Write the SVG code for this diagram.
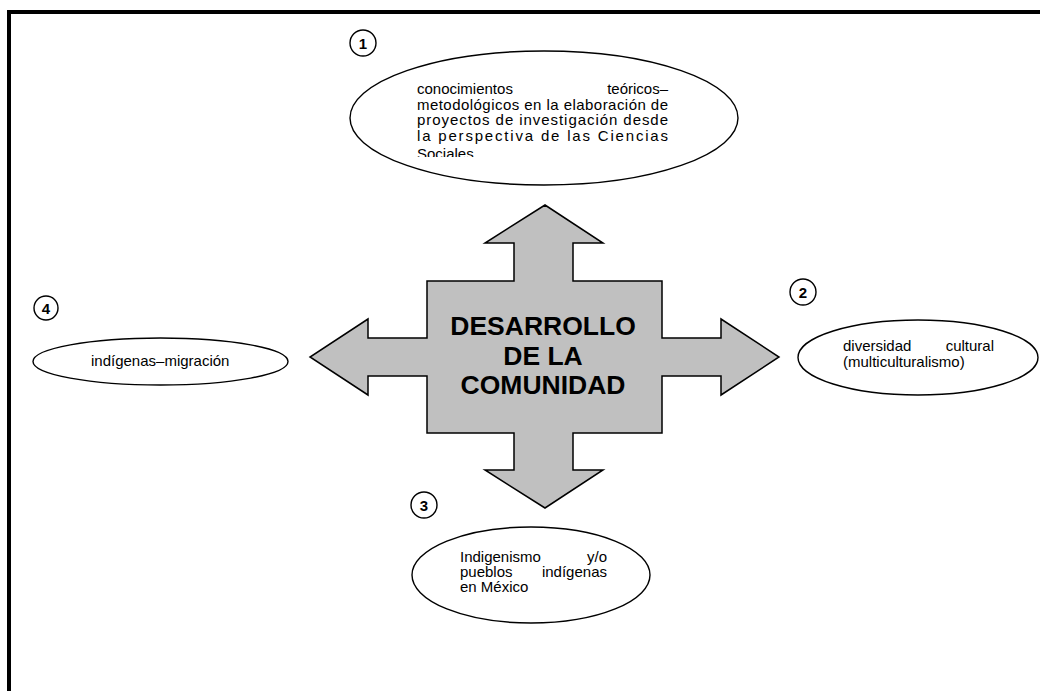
<svg xmlns="http://www.w3.org/2000/svg" width="1040" height="691" viewBox="0 0 1040 691">
  <style>
    .ell { fill: #ffffff; stroke: #000000; stroke-width: 1.4; }
    .num { fill: #ffffff; stroke: #000000; stroke-width: 1.4; }
    .numt { font-family: "Liberation Sans", Arial, sans-serif; font-size: 15px; font-weight: bold; text-anchor: middle; fill: #000; }
    .txt { font-family: "Liberation Sans", Arial, sans-serif; font-size: 15px; fill: #000; }
    .title { font-family: "Liberation Sans", Arial, sans-serif; font-size: 26.5px; font-weight: bold; text-anchor: middle; fill: #000; }
  </style>
  <defs>
    <clipPath id="clip1">
      <rect x="410" y="78" width="265" height="79"/>
    </clipPath>
  </defs>
  <rect width="1040" height="691" fill="#ffffff"/>

  <!-- page frame -->
  <path d="M9,691 V12 H1040" fill="none" stroke="#000" stroke-width="4"/>

  <!-- central four-way arrow -->
  <g id="center">
    <path d="M545,205 L603,243 L573,243 L573,281 L662,281 L662,338 L721,338 L721,319 L779,357 L721,395 L721,376 L662,376 L662,433 L573,433 L573,470 L603,470 L545,508 L485,470 L514,470 L514,433 L427,433 L427,376 L368,376 L368,395 L310,357 L368,319 L368,338 L427,338 L427,281 L514,281 L514,243 L485,243 Z" fill="#c0c0c0" stroke="#000" stroke-width="1.5" stroke-linejoin="miter"/>
    <text class="title" x="543" y="335">DESARROLLO</text>
    <text class="title" x="543" y="365">DE LA</text>
    <text class="title" x="543" y="394">COMUNIDAD</text>
  </g>

  <!-- node 1 -->
  <g id="node1">
    <circle class="num" cx="363" cy="43" r="13"/>
    <text class="numt" x="363" y="48.5">1</text>
    <ellipse class="ell" cx="544" cy="118" rx="194" ry="67"/>
    <g clip-path="url(#clip1)">
      <text class="txt" x="417" y="94">conocimientos</text>
      <text class="txt" x="668" y="94" text-anchor="end">teóricos–</text>
      <text class="txt" x="417" y="109.5" textLength="251" lengthAdjust="spacing">metodológicos en la elaboración de</text>
      <text class="txt" x="417" y="125" textLength="251" lengthAdjust="spacing">proyectos de investigación desde</text>
      <text class="txt" x="417" y="140.5" textLength="251" lengthAdjust="spacing">la perspectiva de las Ciencias</text>
      <text class="txt" x="417" y="159">Sociales</text>
    </g>
  </g>

  <!-- node 2 -->
  <g id="node2">
    <circle class="num" cx="803" cy="292" r="13"/>
    <text class="numt" x="803" y="297.5">2</text>
    <ellipse class="ell" cx="918" cy="357.5" rx="120" ry="37.5"/>
    <text class="txt" x="843" y="351">diversidad</text>
    <text class="txt" x="994" y="351" text-anchor="end">cultural</text>
    <text class="txt" x="843" y="367">(multiculturalismo)</text>
  </g>

  <!-- node 3 -->
  <g id="node3">
    <circle class="num" cx="424" cy="505" r="13"/>
    <text class="numt" x="424" y="510.5">3</text>
    <ellipse class="ell" cx="531" cy="575" rx="119" ry="48"/>
    <text class="txt" x="460" y="562">Indigenismo</text>
    <text class="txt" x="607" y="562" text-anchor="end">y/o</text>
    <text class="txt" x="460" y="577">pueblos</text>
    <text class="txt" x="607" y="577" text-anchor="end">indígenas</text>
    <text class="txt" x="460" y="592">en México</text>
  </g>

  <!-- node 4 -->
  <g id="node4">
    <circle class="num" cx="46" cy="308" r="12"/>
    <text class="numt" x="46" y="313.5">4</text>
    <ellipse class="ell" cx="160.5" cy="361.5" rx="127.5" ry="23.5"/>
    <text class="txt" x="91" y="366">indígenas–migración</text>
  </g>
</svg>
